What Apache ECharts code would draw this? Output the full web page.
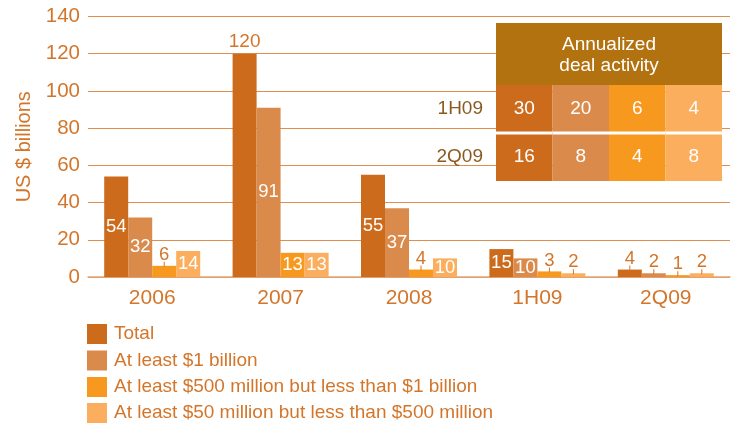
<!DOCTYPE html>
<html><head><meta charset="utf-8">
<script src="https://cdn.jsdelivr.net/npm/echarts@6/dist/echarts.min.js"></script>
<style>html,body{margin:0;padding:0;background:#fff}#c{width:737px;height:423px}</style>
</head><body><div id="c"></div>
<script>
var categories = ['2006', '2007', '2008', '1H09', '2Q09'];
var seriesNames = ['Total', 'At least $1 billion', 'At least $500 million but less than $1 billion', 'At least $50 million but less than $500 million'];
var totalVals = [54, 120, 55, 15, 4];
var billionVals = [32, 91, 37, 10, 2];
var mid500Vals = [6, 13, 4, 3, 1];
var small50Vals = [14, 13, 10, 2, 2];
var yTicks = [0, 20, 40, 60, 80, 100, 120, 140];
var tableRows = ['1H09', '2Q09'];
var tableCols = ['Total', 'At least $1 billion', 'At least $500 million', 'At least $50 million'];
var tableRow1H09 = [30, 20, 6, 4];
var tableRow2Q09 = [16, 8, 4, 8];
var tableTitle = 'Annualized\ndeal activity';

var colors = ['#CD6B1D', '#DA8B4C', '#F7991F', '#FBAE5D'];
var textColor = '#D3762B';
var font = 'Liberation Sans, Arial, sans-serif';

function barData(vals) {
  return vals.map(function (v) {
    if (v >= 100) {
      return { value: v, label: { show: true, position: 'top', distance: 2, color: textColor, fontSize: 19, fontFamily: font, formatter: '{c}' } };
    }
    if (v >= 10) {
      return { value: v, label: { show: true, position: 'inside', color: '#fff', fontSize: 18.5, fontFamily: font, formatter: '{c}' } };
    }
    return { value: v, label: { show: true, position: 'top', distance: -1, formatter: '{v|' + v + '}\n{t|}',
      rich: { v: { color: textColor, fontSize: 18.5, fontFamily: font, align: 'center', lineHeight: 14 },
              t: { width: 1, height: 5, backgroundColor: textColor, align: 'center' } } } };
  });
}

var allVals = [totalVals, billionVals, mid500Vals, small50Vals];
var series = allVals.map(function (vals, i) {
  return {
    name: seriesNames[i], type: 'bar', xAxisIndex: 0, yAxisIndex: 0,
    barWidth: 24, barGap: '0%', itemStyle: { color: colors[i] },
    data: barData(vals), z: 2
  };
});

var tableData = [];
[tableRow1H09, tableRow2Q09].forEach(function (row, r) {
  row.forEach(function (v, c) { tableData.push([c, r, v]); });
});

series.push({
  type: 'custom', xAxisIndex: 1, yAxisIndex: 1, z: 10, silent: true,
  data: tableData,
  renderItem: function (params, api) {
    var c = api.value(0), r = api.value(1), v = api.value(2);
    var center = api.coord([c, r]);
    var size = api.size([1, 1]);
    var x = center[0] - size[0] / 2, y = center[1] - size[1] / 2;
    var children = [
      { type: 'rect', shape: { x: x, y: y, width: size[0], height: size[1] }, style: { fill: colors[c] } },
      { type: 'text', style: { text: String(v), x: center[0], y: center[1], align: 'center', verticalAlign: 'middle', fill: '#fff', font: '19px ' + font } }
    ];
    if (r === 1) {
      children.push({ type: 'rect', shape: { x: x, y: y - 1.5, width: size[0], height: 3 }, style: { fill: '#fff' } });
    }
    return { type: 'group', children: children };
  }
});

var legendTops = [324, 350.5, 377, 403];
var legends = seriesNames.map(function (n, i) {
  return {
    data: [n], orient: 'vertical', left: 87, top: legendTops[i], padding: 0,
    itemWidth: 20, itemHeight: 20, icon: 'rect', selectedMode: false,
    textStyle: { color: textColor, fontSize: 19, fontFamily: font, padding: [0, 0, 0, 2] }
  };
});

var chart = echarts.init(document.getElementById('c'), null, { renderer: 'canvas' });
chart.setOption({
  animation: false,
  textStyle: { fontFamily: font },
  grid: [
    { left: 88, right: 7, top: 16.5, bottom: 146 },
    { left: 496, width: 226, top: 85, height: 96 }
  ],
  legend: legends,
  xAxis: [
    { type: 'category', gridIndex: 0, data: categories,
      axisLine: { show: true, lineStyle: { color: '#E2A777', width: 1.5 } },
      axisTick: { show: false },
      axisLabel: { color: textColor, fontSize: 21, fontFamily: font, margin: 11 } },
    { type: 'category', gridIndex: 1, data: tableCols, show: false }
  ],
  yAxis: [
    { type: 'value', gridIndex: 0, min: yTicks[0], max: yTicks[yTicks.length - 1], interval: 20,
      name: 'US $ billions', nameLocation: 'middle', nameGap: 52, nameRotate: 90,
      nameTextStyle: { color: textColor, fontSize: 20, fontFamily: font },
      axisLine: { show: false }, axisTick: { show: false },
      axisLabel: { color: textColor, fontSize: 20.5, fontFamily: font, margin: 8 },
      splitLine: { lineStyle: { color: '#DD8E50', width: 1 } } },
    { type: 'category', gridIndex: 1, data: tableRows, inverse: true,
      axisLine: { show: false }, axisTick: { show: false }, splitLine: { show: false },
      axisLabel: { color: '#8B5A1E', fontSize: 19, fontFamily: font, margin: 13 } }
  ],
  graphic: [
    { type: 'rect', x: 496, y: 23, shape: { width: 226, height: 62 }, style: { fill: '#B1720F' }, z: 10 },
    { type: 'text', x: 609, y: 55, z: 11,
      style: { text: tableTitle, fill: '#fff', font: '19px ' + font, textAlign: 'center', textVerticalAlign: 'middle', align: 'center', verticalAlign: 'middle', lineHeight: 21 } }
  ],
  series: series
});
</script></body></html>
